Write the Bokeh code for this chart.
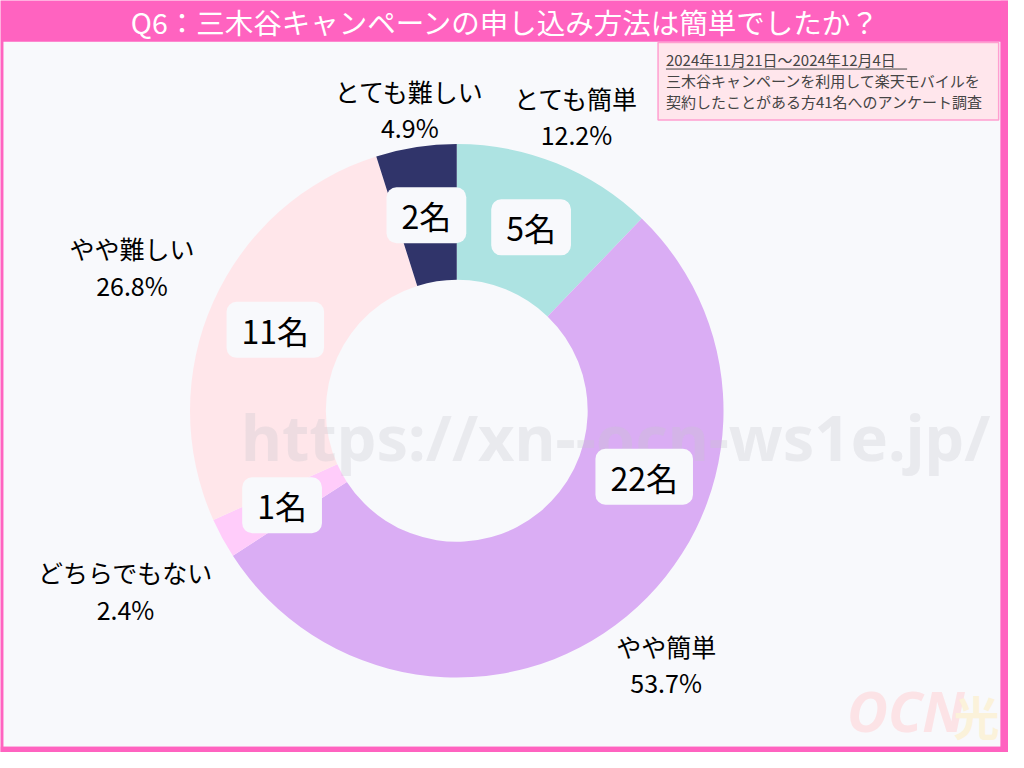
import math
from bokeh.plotting import figure
from bokeh.models import Range1d
from bokeh.core.properties import value
from bokeh.embed import file_html
from bokeh.resources import INLINE

# ---- data ----
categories = ["とても簡単", "やや簡単", "どちらでもない", "やや難しい", "とても難しい"]
counts = [5, 22, 1, 11, 2]
percent_labels = ["12.2%", "53.7%", "2.4%", "26.8%", "4.9%"]
colors = ["#ADE3E2", "#DAADF4", "#FFCCFA", "#FFE6EA", "#30346A"]
title_text = "Q6：三木谷キャンペーンの申し込み方法は簡単でしたか？"
note_lines = ["2024年11月21日～2024年12月4日",
              "三木谷キャンペーンを利用して楽天モバイルを",
              "契約したことがある方41名へのアンケート調査"]
watermark = "https://xn--ocn-ws1e.jp/"

# style: angular shift (degrees) of the in-ring count labels
count_label_shift = [0, -31, 0, 0, 0]

FONT = value("Noto Sans CJK JP")
PINK = "#FF63C0"
W, H = 1024, 768


def Y(y):
    return H - y


p = figure(width=1008, height=752, output_backend="svg", toolbar_location=None,
           x_range=Range1d(0, W), y_range=Range1d(0, H), min_border=0)
p.axis.visible = False
p.grid.visible = False
p.outline_line_color = None
p.background_fill_color = PINK
p.border_fill_color = PINK

# inner panel
p.quad(left=[3], right=[1016], top=[Y(42)], bottom=[Y(762)], fill_color="#F8F9FC", line_color=None)

# title
p.text(x=[513], y=[Y(21)], text=[title_text], text_color="white", text_font=FONT,
       text_font_size="28.5px", text_align="center", text_baseline="middle")

# donut
cx, cy = 463.5, Y(419)
r_out, r_in = 271, 133
total = sum(counts)
cum = 0
starts, ends, mids = [], [], []
for c in counts:
    f0 = cum / total
    cum += c
    f1 = cum / total
    starts.append(math.pi / 2 - 2 * math.pi * f1)
    ends.append(math.pi / 2 - 2 * math.pi * f0)
    mids.append((f0 + f1) / 2)

p.annular_wedge(x=[cx] * len(counts), y=[cy] * len(counts), inner_radius=r_in, outer_radius=r_out,
                start_angle=starts, end_angle=ends, fill_color=colors, line_color=None)

# outer labels
fs = 25
for cat, pc, m in zip(categories, percent_labels, mids):
    a = 2 * math.pi * m
    half_w = len(cat) * fs * 1.08 / 2
    r = 300 + abs(math.sin(a)) * half_w
    x = cx + r * math.sin(a)
    y = cy + r * math.cos(a)
    p.text(x=[x], y=[y + 18], text=[cat], text_font=FONT, text_font_size=f"{fs}px",
           text_color="black", text_align="center", text_baseline="middle")
    p.text(x=[x], y=[y - 19], text=[pc], text_font=FONT, text_font_size=f"{fs}px",
           text_color="black", text_align="center", text_baseline="middle")

# watermark
p.text(x=[625], y=[Y(445)], text=[watermark], text_font=value("Noto Sans"), text_font_style="bold",
       text_font_size="63px", text_color="#C8C8CE", text_alpha=0.3,
       text_align="center", text_baseline="middle")

# count labels in rounded boxes
r_mid = 202
la = [2 * math.pi * m + math.radians(s) for m, s in zip(mids, count_label_shift)]
lx = [cx + r_mid * math.sin(a) for a in la]
ly = [cy + r_mid * math.cos(a) for a in la]
p.text(x=lx, y=ly, text=[f"{c}名" for c in counts], text_font=FONT, text_font_size="32px",
       text_color="black", text_align="center", text_baseline="middle",
       background_fill_color="#F8F9FC", border_radius=10, padding=(15, 5))

# logo
p.text(x=[860], y=[Y(763)], text=["OCN"], text_font=value("Noto Sans"), text_font_style="bold italic",
       text_font_size="56px", text_color="#FCE3E6", text_align="left", text_baseline="bottom")
p.text(x=[968], y=[Y(763)], text=["光"], text_font=value("Noto Sans CJK JP"), text_font_style="bold",
       text_font_size="46px", text_color="#FBF2DA", text_align="left", text_baseline="bottom")

# frame strips on top
p.quad(left=[0], right=[W], top=[Y(762)], bottom=[0], fill_color=PINK, line_color=None)
p.quad(left=[1016], right=[W], top=[H], bottom=[0], fill_color=PINK, line_color=None)

# note box
p.quad(left=[668], right=[1014], top=[Y(43)], bottom=[Y(122)], fill_color="#FFE6EC",
       line_color="#FF9FD0", line_width=1.5)
for i, line in enumerate(note_lines):
    p.text(x=[676], y=[Y(60 + i * 21.5)], text=[line], text_font=FONT, text_font_size="15px",
           text_color="#444444", text_align="left", text_baseline="middle")
p.segment(x0=[676], y0=[Y(70)], x1=[921], y1=[Y(70)], line_color="#444444", line_width=1)

open("out.html", "w").write(file_html(p, INLINE))
